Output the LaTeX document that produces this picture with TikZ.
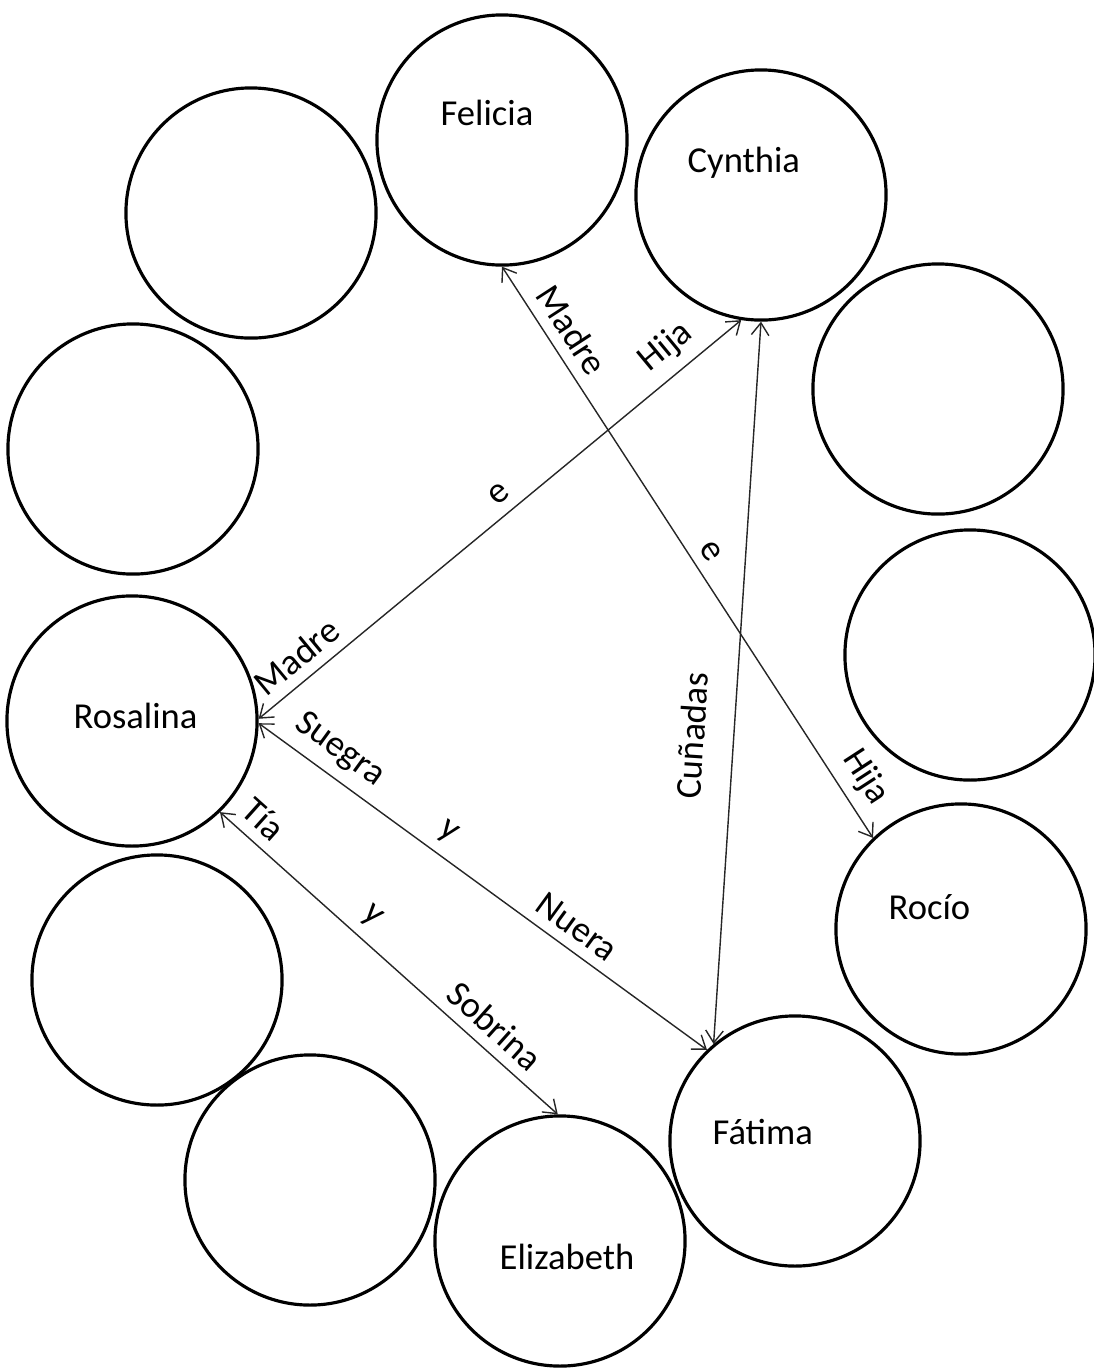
\documentclass[tikz,border=0pt]{standalone}
\usepackage{fontspec}
\setmainfont{Carlito}
\usetikzlibrary{arrows.meta}

\tikzset{
  ring/.style={draw=black, line width=0.9pt, circle, minimum size=2.5cm, inner sep=0pt},
  rel/.style={draw=black!85, line width=0.4pt,
    {Straight Barb[length=3.5pt,width=5pt]}-{Straight Barb[length=3.5pt,width=5pt]}},
  tag/.style={sloped, above=2pt, inner sep=1pt},
  who/.style={anchor=base west, inner sep=0pt},
}

\begin{document}
\begin{tikzpicture}[x=0.01cm,y=-0.01cm]
\tikzstyle{every node}+=[font=\fontsize{10.4}{12}\selectfont]
\useasboundingbox (0,0) rectangle (1093,1372);
% circles
\node [ring] (felicia) at (502,140) {};
\node [ring] (cynthia) at (761,195) {};
\node [ring] (topleft) at (251,213) {};
\node [ring] (left) at (133,449) {};
\node [ring] (right) at (938,389) {};
\node [ring] (right2) at (970,655) {};
\node [ring] (rosalina) at (132,721) {};
\node [ring] (rocio) at (961,929) {};
\node [ring] (lowleft) at (157,980) {};
\node [ring] (fatima) at (795,1141) {};
\node [ring] (botleft) at (310,1180) {};
\node [ring] (elizabeth) at (560,1241) {};
% names
\node [who] (felicia-t) at (440,125) {Felicia};
\node [who] (cynthia-t) at (687,172) {Cynthia};
\node [who] (rosalina-t) at (73,728) {Rosalina};
\node [who] (rocio-t) at (888,919) {Rocío};
\node [who] (fatima-t) at (712,1144) {Fátima};
\node [who] (elizabeth-t) at (499,1269) {Elizabeth};
% relations
\draw [rel] (felicia.270) -- (rocio.134)
  node [tag, pos=0.134] {Madre}
  node [tag, pos=0.517] {e}
  node [tag, pos=0.919] {Hija};
\draw [rel] (rosalina.1) -- (cynthia.261)
  node [tag, pos=0.110] {Madre}
  node [tag, pos=0.525] {e}
  node [tag, pos=0.880] {Hija};
\draw [rel] (fatima.130) -- (cynthia.270)
  node [tag, above=5pt, pos=0.423] {Cuñadas};
\draw [rel] (rosalina.359) -- (fatima.134)
  node [tag, pos=0.146] {Suegra}
  node [tag, pos=0.391] {y}
  node [tag, pos=0.680] {Nuera};
\draw [rel] (rosalina.314) -- (elizabeth.91)
  node [tag, pos=0.082] {Tía}
  node [tag, pos=0.403] {y}
  node [tag, pos=0.767] {Sobrina};
\end{tikzpicture}
\end{document}
